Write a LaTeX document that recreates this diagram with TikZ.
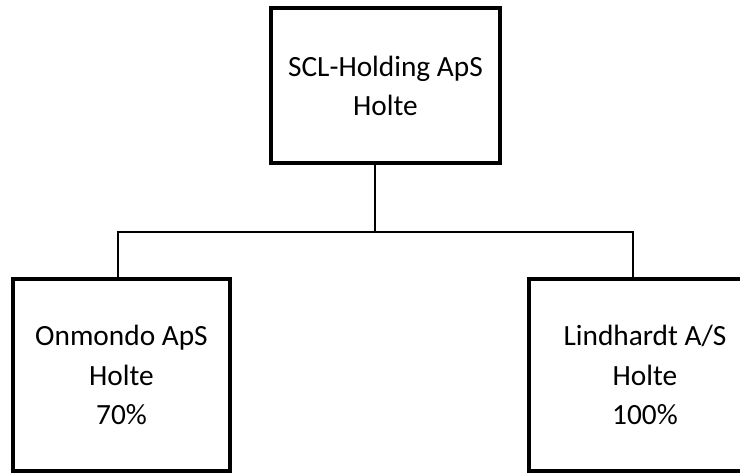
\documentclass[tikz,border=0pt]{standalone}
\usepackage{fontspec}
\setmainfont{Carlito}

\begin{document}
\begin{tikzpicture}[x = 0.75pt, y = -0.75pt, box/.style = {draw, line width = 3pt, align = center, inner sep = 0pt, font = \fontsize{22pt}{29.3pt}\selectfont}, link/.style = {line width = 1.5pt}]
	\clip (0,0) rectangle (740,473);
	\node[box, minimum width = 171.75pt, minimum height = 116.25pt] (scl) at (385.5,85.5) {SCL-Holding ApS\\Holte};
	\node[box, minimum width = 162.75pt, minimum height = 144pt] (onm) at (121.5,375) {Onmondo ApS\\Holte\\70\%};
	\node[box, minimum width = 174pt, minimum height = 144pt] (lin) at (645,375) {Lindhardt A/S\\Holte\\100\%};
	\coordinate (bar) at (375,232);
	\draw[link] ([xshift = -7.9pt]scl.south) -- ([xshift = -7.9pt]scl.south |- bar);
	\draw[link] ([xshift = -2.6pt]onm.north) |- (bar) -| ([xshift = -9pt]lin.north);
\end{tikzpicture}
\end{document}
